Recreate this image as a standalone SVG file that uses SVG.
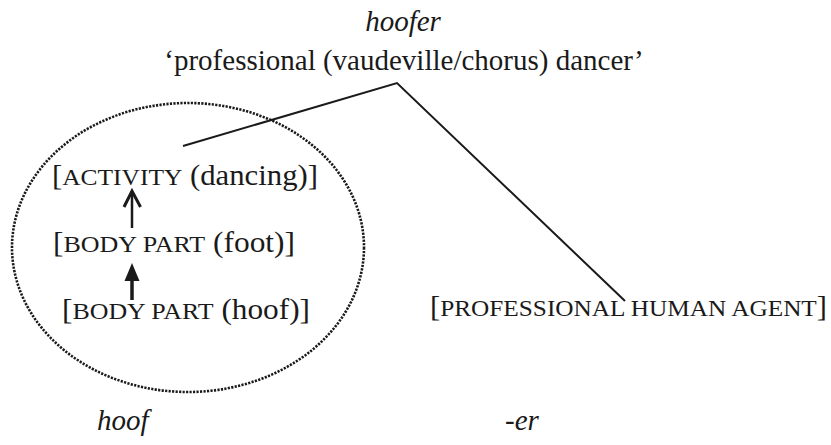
<svg xmlns="http://www.w3.org/2000/svg" width="831" height="445" viewBox="0 0 831 445">
  <style>
    .it { font-style: italic; }
    .node { font-size: 29px; }
    .sc { font-size: 24px; }
    .gloss { font-size: 29px; }
    .link { fill: none; stroke: #1a1a1a; stroke-width: 2; stroke-linejoin: miter; }
    .dots { fill: none; stroke: #1a1a1a; stroke-width: 2.6; stroke-dasharray: 2.2 1.3; }
  </style>

  <g font-family="Liberation Serif, Tinos, serif" fill="#1a1a1a">
    <!-- headword and gloss -->
    <g id="hoofer">
      <text class="it gloss" x="403" y="31" text-anchor="middle">hoofer</text>
      <text class="gloss" x="404" y="70" text-anchor="middle">‘professional (vaudeville/chorus) dancer’</text>
    </g>

    <!-- dotted domain enclosing the base frames -->
    <g id="domain">
      <ellipse class="dots" cx="188" cy="247.5" rx="176" ry="144.5"/>
    </g>

    <!-- frame nodes -->
    <g id="activity">
      <text class="node" x="52" y="185" textLength="266" lengthAdjust="spacingAndGlyphs">[<tspan class="sc">ACTIVITY</tspan> (dancing)]</text>
    </g>
    <g id="foot">
      <text class="node" x="53" y="252" textLength="242" lengthAdjust="spacingAndGlyphs">[<tspan class="sc">BODY PART</tspan> (foot)]</text>
    </g>
    <g id="hoof-frame">
      <text class="node" x="62" y="319" textLength="248" lengthAdjust="spacingAndGlyphs">[<tspan class="sc">BODY PART</tspan> (hoof)]</text>
    </g>
    <g id="agent">
      <text class="node" x="430" y="316" textLength="397" lengthAdjust="spacingAndGlyphs">[<tspan class="sc">PROFESSIONAL HUMAN AGENT</tspan>]</text>
    </g>

    <!-- morpheme labels -->
    <g id="hoof">
      <text class="it gloss" x="97" y="430">hoof</text>
    </g>
    <g id="er">
      <text class="it gloss" x="505" y="430">-er</text>
    </g>

    <!-- connectors -->
    <g id="connectors">
      <polyline class="link" points="183,146 397,83 625,301"/>
      <!-- foot -> activity (open head) -->
      <line x1="132" y1="228" x2="132" y2="193" stroke="#1a1a1a" stroke-width="2.5"/>
      <polyline points="124,207 132,191 140.5,207" fill="none" stroke="#1a1a1a" stroke-width="3"/>
      <!-- hoof -> foot (solid head) -->
      <line x1="132" y1="300" x2="132" y2="278" stroke="#1a1a1a" stroke-width="3.5"/>
      <polygon points="132,263 124.5,281 139.5,281"/>
    </g>
  </g>
</svg>
